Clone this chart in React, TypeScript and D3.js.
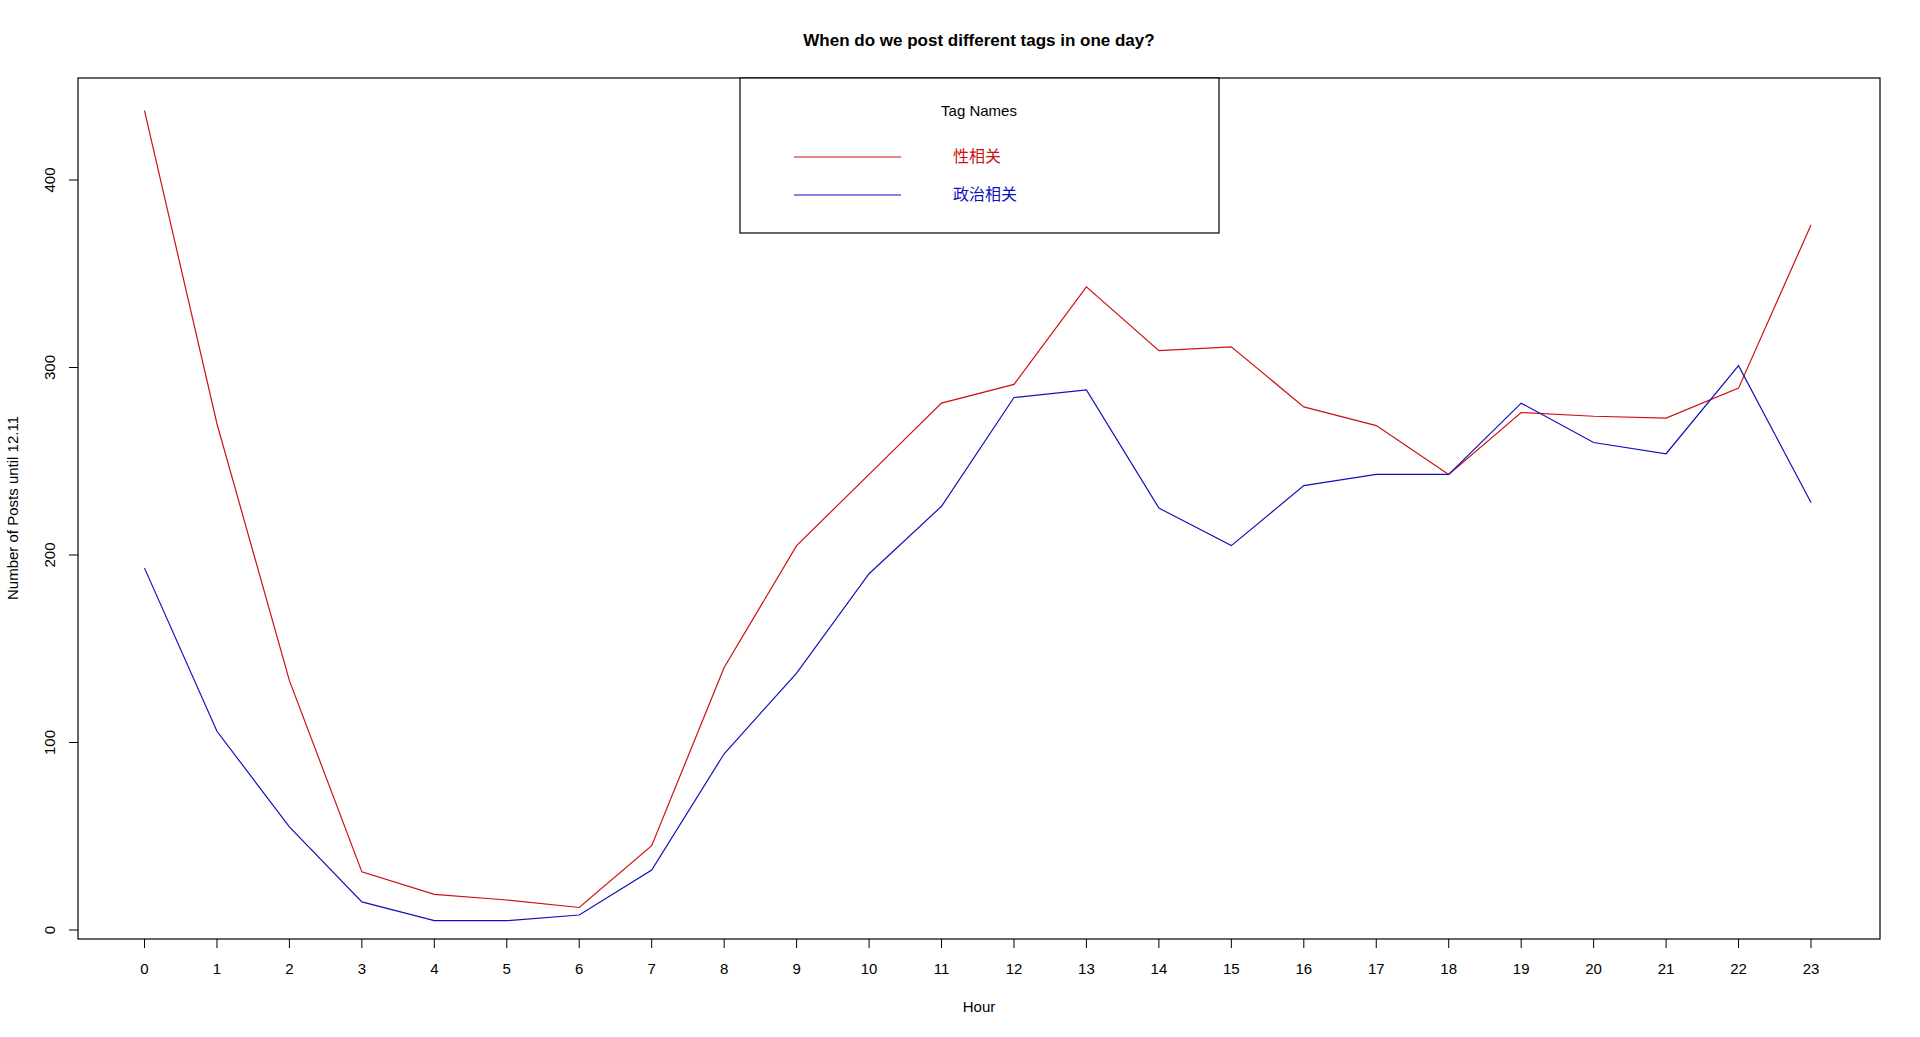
import React from "react";
import * as d3 from "d3";

const hours = d3.range(0, 24);
const sexValues = [437, 270, 133, 31, 19, 16, 12, 45, 140, 205, 243, 281, 291, 343, 309, 311, 279, 269, 243, 276, 274, 273, 289, 376];
const politicsValues = [193, 106, 55, 15, 5, 5, 8, 32, 94, 137, 190, 226, 284, 288, 225, 205, 237, 243, 243, 281, 260, 254, 301, 228];
const yTicks = [0, 100, 200, 300, 400];
const seriesNames = ["性相关", "政治相关"];
const seriesColors = ["#cc1111", "#1111bb"];

export default function App() {
  const W = 1920, H = 1037;
  const box = { l: 78, r: 1880, t: 78, b: 939 };
  const x = d3.scaleLinear().domain([0, 23]).range([144.5, 1811]);
  const y = d3.scaleLinear().domain([0, 400]).range([930, 180]);
  const line = d3.line<number>().x((_, i) => x(hours[i])).y((d) => y(d));
  const font = "'Liberation Sans', Arial, sans-serif";
  return (
    <svg width={W} height={H} style={{ position: "absolute", left: 0, top: 0, background: "#fff" }} fontFamily={font}>
      <text x={979} y={46} textAnchor="middle" fontSize={17} fontWeight="bold">When do we post different tags in one day?</text>
      <rect x={box.l} y={box.t} width={box.r - box.l} height={box.b - box.t} fill="none" stroke="#000" strokeWidth={1.2} />
      {[sexValues, politicsValues].map((s, k) => (
        <path key={k} d={line(s) || ""} fill="none" stroke={seriesColors[k]} strokeWidth={1.2} />
      ))}
      {hours.map((h) => (
        <g key={h}>
          <line x1={x(h)} x2={x(h)} y1={box.b} y2={box.b + 9} stroke="#000" />
          <text x={x(h)} y={974} textAnchor="middle" fontSize={15}>{h}</text>
        </g>
      ))}
      {yTicks.map((t) => (
        <g key={t}>
          <line x1={box.l - 9} x2={box.l} y1={y(t)} y2={y(t)} stroke="#000" />
          <text transform={`translate(55,${y(t)}) rotate(-90)`} textAnchor="middle" fontSize={15}>{t}</text>
        </g>
      ))}
      <text x={979} y={1012} textAnchor="middle" fontSize={15}>Hour</text>
      <text transform={`translate(18,508) rotate(-90)`} textAnchor="middle" fontSize={15}>Number of Posts until 12.11</text>
      <rect x={740} y={78} width={479} height={155} fill="#fff" stroke="#000" strokeWidth={1.2} />
      <text x={979} y={116} textAnchor="middle" fontSize={15}>Tag Names</text>
      {seriesNames.map((n, k) => (
        <g key={n}>
          <line x1={794} x2={901} y1={157 + k * 38} y2={157 + k * 38} stroke={seriesColors[k]} strokeWidth={1.2} />
          <text x={k === 0 ? 977 : 985} y={162 + k * 38} textAnchor="middle" fontSize={16} fill={seriesColors[k]} fontFamily="'Noto Sans CJK SC', sans-serif">{n}</text>
        </g>
      ))}
    </svg>
  );
}
